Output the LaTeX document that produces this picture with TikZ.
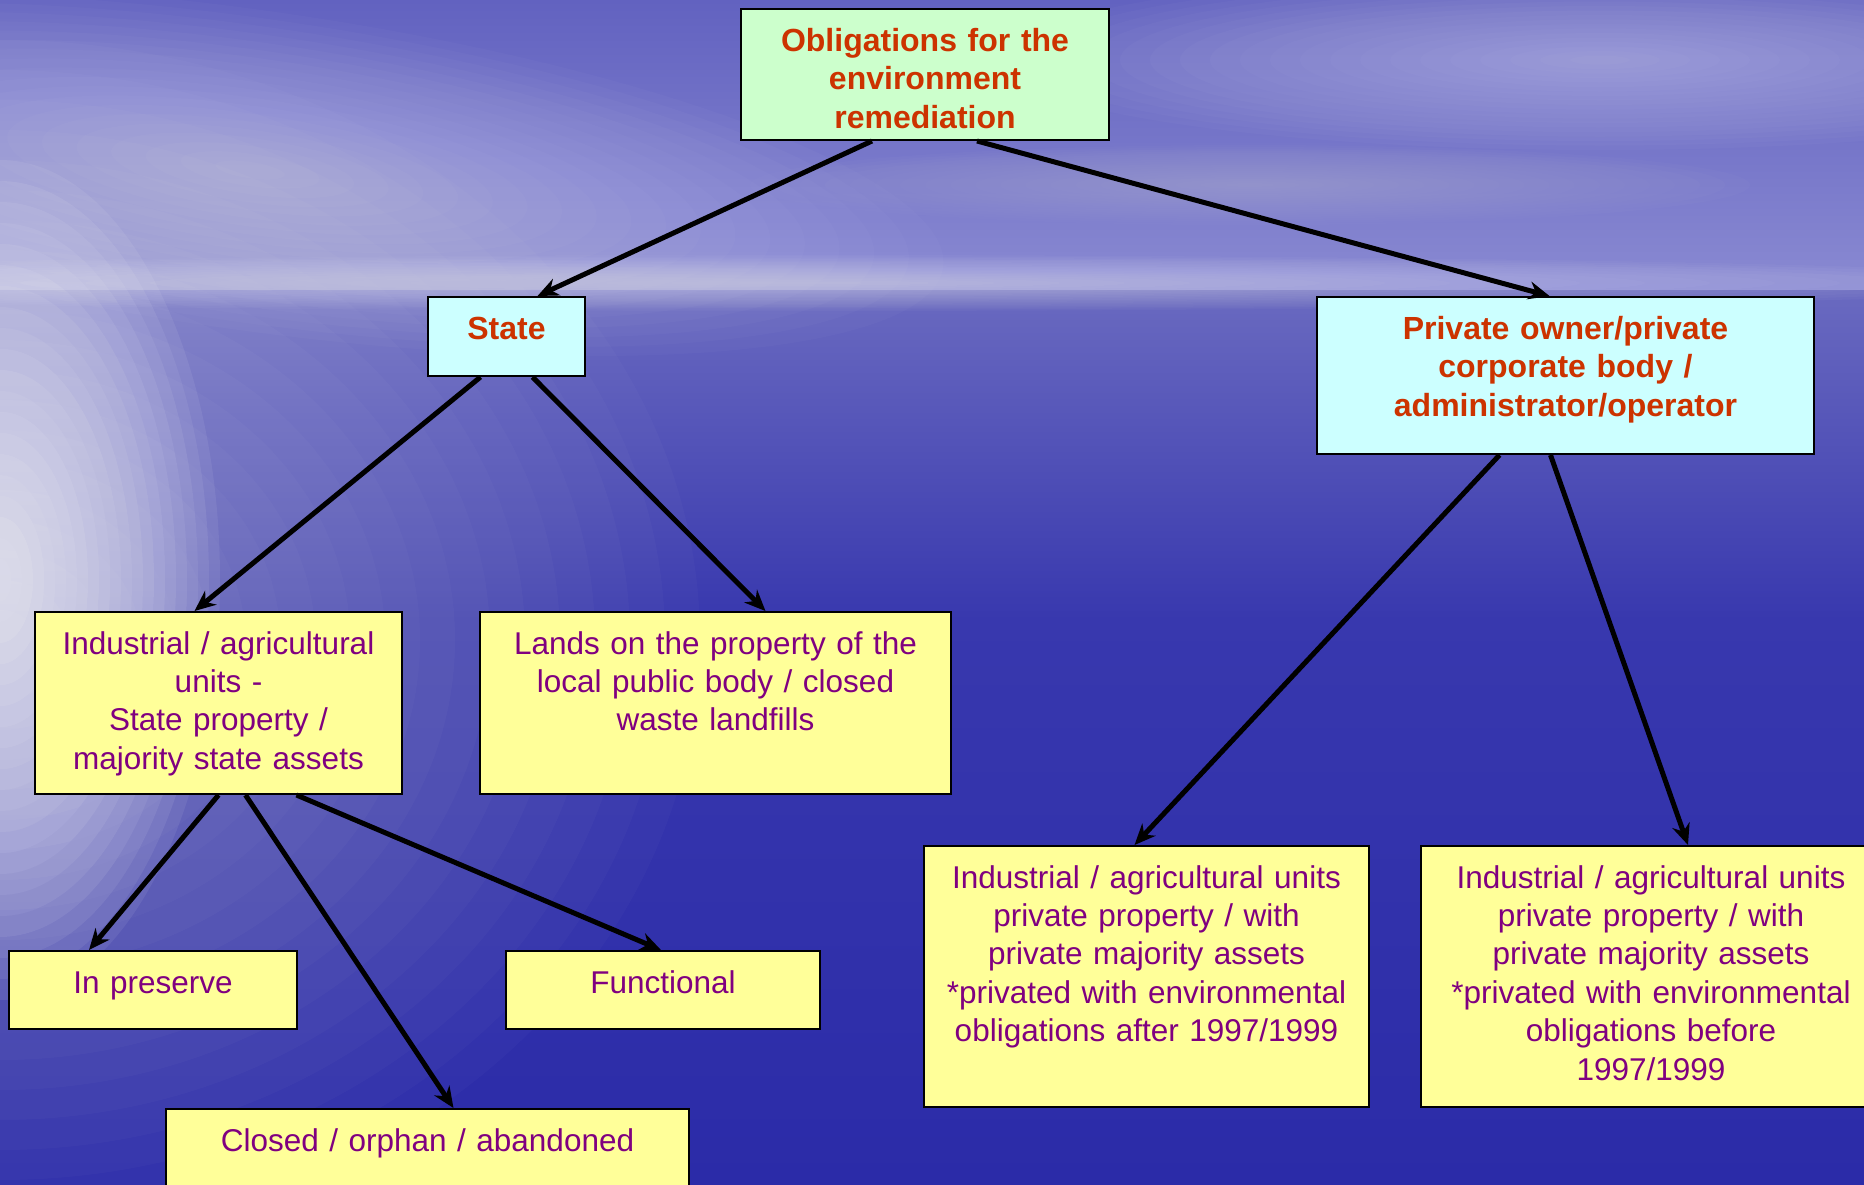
\documentclass[tikz,border=0pt]{standalone}
\usepackage{fontspec}
\setmainfont{Liberation Sans}
\usetikzlibrary{arrows.meta}
\definecolor{boxyellow}{HTML}{FFFF99}
\definecolor{boxcyan}{HTML}{CCFFFF}
\definecolor{boxgreen}{HTML}{CCFFCC}
\definecolor{txtpurple}{HTML}{800080}
\definecolor{txtred}{HTML}{CC3300}
\definecolor{skytop}{HTML}{6262C0}
\definecolor{skylow}{HTML}{8A8AD2}
\definecolor{seatop}{HTML}{6A6AC0}
\definecolor{seamid}{HTML}{3838AE}
\definecolor{seabot}{HTML}{2B2BA8}
\tikzset{box/.style={rectangle,draw,line width=2pt,inner sep=0pt,anchor=north west,align=center,text height=42pt,font=\fontsize{31.5}{38.4}\selectfont},
  ybox/.style={box,fill=boxyellow,text=txtpurple},
  cbox/.style={box,fill=boxcyan,text=txtred,font=\fontsize{32}{38.6}\selectfont\bfseries},
  gbox/.style={cbox,fill=boxgreen},
  link/.style={line width=5pt,-{Stealth[length=21pt,width=18pt]}}}

\begin{document}
\begin{tikzpicture}[x=1pt,y=-1pt]
    \useasboundingbox (0,0) rectangle (1864,1184);
    \clip (0,0) rectangle (1864,1184);
    % sky and sea
    \shade[top color=skytop, bottom color=skylow] (0,0) rectangle (1864,292);
    \shade[top color=seatop, bottom color=seamid] (0,290) rectangle (1864,620);
    \shade[top color=seamid, bottom color=seabot] (0,619) rectangle (1864,1184);
    % clouds and glare
    \foreach \k in {1,...,20} {
      \fill[white, opacity=0.024, rotate around={-8:(250,170)}] (250,170) ellipse ({35*\k} and {8*\k});
      \fill[white, opacity=0.022] (1600,60) ellipse ({30*\k} and {4.5*\k});
      \fill[white, opacity=0.015] (1250,185) ellipse ({25*\k} and {2*\k});
      \fill[white, opacity=0.026] (800,283) ellipse ({65*\k} and {1.4*\k});
      \fill[white, opacity=0.025] (0,640) ellipse ({35*\k} and {30*\k});
      \fill[white, opacity=0.07] (0,580) ellipse ({11*\k} and {21*\k});
    }

    \node[gbox, text width=368pt, text depth=89pt] (oblig) at (740,8) {Obligations for the\\environment\\remediation};
    \node[cbox, text width=157pt, text depth=37pt] (state) at (427,296) {State};
    \node[cbox, text width=497pt, text depth=115pt] (priv) at (1316,296) {Private owner/private\\corporate body /\\administrator/operator};
    \node[ybox, text width=367pt, text depth=140pt] (indst) at (34,611) {Industrial / agricultural\\units -\\State property /\\majority state assets};
    \node[ybox, text width=471pt, text depth=140pt] (lands) at (479,611) {Lands on the property of the\\local public body / closed\\waste landfills};
    \node[ybox, text width=288pt, text depth=36pt] (presv) at (8,950) {In preserve};
    \node[ybox, text width=314pt, text depth=36pt] (func) at (505,950) {Functional};
    \node[ybox, text width=523pt, text depth=60pt] (closed) at (165,1108) {Closed / orphan / abandoned};
    \node[ybox, text width=445pt, text depth=219pt] (indpa) at (923,845) {Industrial / agricultural units\\private property / with\\private majority assets\\{*}privated with environmental\\obligations after 1997/1999};
    \node[ybox, text width=460pt, text depth=219pt] (indpb) at (1420,845) {Industrial / agricultural units\\private property / with\\private majority assets\\{*}privated with environmental\\obligations before\\1997/1999};

    \draw[link] ([xshift=-53pt]oblig.south) -- ([xshift=31pt]state.north);
    \draw[link] ([xshift=52pt]oblig.south) -- ([xshift=-16pt]priv.north);
    \draw[link] ([xshift=-26pt]state.south) -- ([xshift=-24pt]indst.north);
    \draw[link] ([xshift=26pt]state.south) -- ([xshift=50pt]lands.north);
    \draw[link] ([xshift=-66pt]priv.south) -- ([xshift=-12pt]indpa.north);
    \draw[link] ([xshift=-15pt]priv.south) -- ([xshift=37pt]indpb.north);
    \draw[link] (indst.south) -- ([xshift=-64pt]presv.north);
    \draw[link] ([xshift=27pt]indst.south) -- ([xshift=26pt]closed.north);
    \draw[link] ([xshift=78pt]indst.south) -- ([xshift=-2pt]func.north);
\end{tikzpicture}
\end{document}
